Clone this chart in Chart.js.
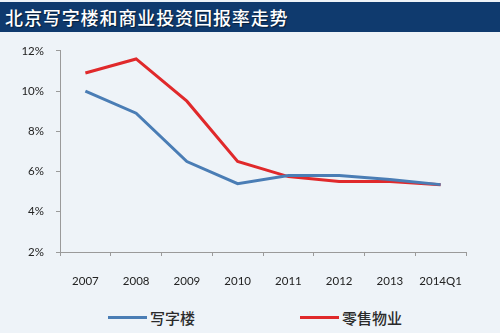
<!DOCTYPE html>
<html>
<head>
<meta charset="utf-8">
<script src="https://cdn.jsdelivr.net/npm/chart.js@4/dist/chart.umd.min.js"></script>
<style>
  html, body { margin: 0; padding: 0; }
  body { width: 500px; height: 333px; background: #eef3f8; position: relative; overflow: hidden;
         font-family: "Noto Sans CJK SC", "Noto Sans", sans-serif; }
  #title { position: absolute; left: 0; top: 2px; width: 500px; height: 30px; background: #0f3a6e;
           color: #fff; font-size: 18px; line-height: 30px; padding-left: 5px; box-sizing: border-box;
           text-shadow: 1px 1px 1px rgba(0,0,0,0.5); letter-spacing: 0.9px; font-weight: 500; }
  #wrap { position: absolute; left: 0; top: 32px; width: 500px; height: 268px; }
  #legend { position: absolute; top: 306px; left: 0; width: 500px; height: 22px; }
  .item { position: absolute; top: 0; height: 22px; display: flex; align-items: center; font-size: 15px; color: #2a2a2a; font-weight: 500; }
  .sw { display: inline-block; width: 39px; height: 3px; margin-right: 3px; }
</style>
</head>
<body>
<div id="title">北京写字楼和商业投资回报率走势</div>
<div id="wrap"><canvas id="c" width="500" height="268"></canvas></div>
<div id="legend"></div>
<script>
const categories = ['2007', '2008', '2009', '2010', '2011', '2012', '2013', '2014Q1'];
const officeName = '写字楼';
const officeValues = [10.0, 8.9, 6.5, 5.4, 5.8, 5.8, 5.6, 5.35];
const retailName = '零售物业';
const retailValues = [10.9, 11.6, 9.5, 6.5, 5.75, 5.5, 5.5, 5.35];
const yTicks = [2, 4, 6, 8, 10, 12];

const officeColor = '#4a7db5';
const retailColor = '#e0292b';

const legendLeft = [108, 300];
const lg = document.getElementById('legend');
[[officeName, officeColor], [retailName, retailColor]].forEach((s, i) => {
  const d = document.createElement('div');
  d.className = 'item';
  d.style.left = legendLeft[i] + 'px';
  const sw = document.createElement('span');
  sw.className = 'sw';
  sw.style.background = s[1];
  d.appendChild(sw);
  const t = document.createElement('span');
  t.textContent = s[0];
  d.appendChild(t);
  lg.appendChild(d);
});

const tickFont = { family: 'Lato, "DejaVu Sans", sans-serif', size: 11.5 };
new Chart(document.getElementById('c'), {
  type: 'line',
  data: {
    labels: categories,
    datasets: [
      { label: officeName, data: officeValues, borderColor: officeColor, backgroundColor: officeColor,
        borderWidth: 3, pointRadius: 0, tension: 0 },
      { label: retailName, data: retailValues, borderColor: retailColor, backgroundColor: retailColor,
        borderWidth: 3, pointRadius: 0, tension: 0 }
    ]
  },
  options: {
    responsive: false,
    animation: false,
    layout: { padding: { top: 18, right: 34, left: 0, bottom: 0 } },
    plugins: { legend: { display: false }, tooltip: { enabled: false } },
    scales: {
      x: {
        offset: true,
        grid: { display: true, drawOnChartArea: false, offset: true, tickLength: 4, color: '#9a9a9a' },
        border: { color: '#9a9a9a', width: 1 },
        ticks: { color: '#222', font: tickFont, padding: 18, maxRotation: 0 },
        afterFit: s => { s.height = 48; }
      },
      y: {
        min: 2, max: 12,
        afterBuildTicks: s => { s.ticks = yTicks.map(v => ({ value: v })); },
        grid: { display: true, drawOnChartArea: false, tickLength: 4, color: '#9a9a9a' },
        border: { color: '#9a9a9a', width: 1 },
        ticks: { color: '#222', font: tickFont, padding: 12, callback: v => v + '%' },
        afterFit: s => { s.width = 60; }
      }
    }
  }
});
</script>
</body>
</html>
